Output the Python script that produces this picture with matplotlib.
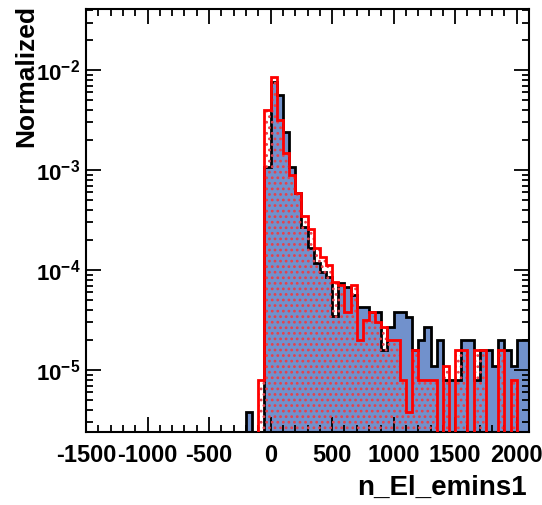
import matplotlib
matplotlib.use("Agg")
import matplotlib.pyplot as plt
from matplotlib import ticker
import numpy as np

plt.rcParams['font.family'] = ['Liberation Sans', 'DejaVu Sans']
plt.rcParams['font.weight'] = 'bold'
plt.rcParams['mathtext.fontset'] = 'custom'
plt.rcParams['mathtext.rm'] = 'Liberation Sans:bold'
plt.rcParams['mathtext.bf'] = 'Liberation Sans:bold'
plt.rcParams['axes.unicode_minus'] = False
plt.rcParams['hatch.linewidth'] = 1.2

# ...   data: bins of 50 starting at -200, normalized contents (0 = empty bin)
bin_start = -200
bin_width = 50
blue_vals = [3.8e-6, 0, 0, 1.07e-3, 7.6e-3, 5.7e-3, 2.4e-3, 1.07e-3, 5.9e-4, 2.7e-4,
             1.66e-4, 1.17e-4, 9.5e-5, 8.5e-5, 3.5e-5, 7.4e-5, 6.8e-5, 5.6e-5, 4.3e-5, 4.3e-5,
             3.8e-5, 3.8e-5, 1.6e-5, 2.7e-5, 3.8e-5, 3.8e-5, 3.4e-5, 1.6e-5, 2.0e-5, 2.7e-5,
             1.1e-5, 2.0e-5, 8e-6, 8e-6, 8e-6, 2.0e-5, 2.0e-5, 8e-6, 1.6e-5, 1.6e-5,
             1.1e-5, 2.0e-5, 1.6e-5, 1.1e-5, 2.0e-5, 2.0e-5]
red_vals = [0, 0, 7.9e-6, 4.0e-3, 8.5e-3, 3.2e-3, 1.5e-3, 8.9e-4, 5.9e-4, 3.5e-4,
            2.6e-4, 1.66e-4, 1.35e-4, 1.12e-4, 7.6e-5, 7.1e-5, 3.8e-5, 7.1e-5, 2.0e-5, 3.2e-5,
            3.8e-5, 3.0e-5, 2.7e-5, 2.0e-5, 2.0e-5, 8e-6, 3.8e-6, 1.6e-5, 8e-6, 8e-6,
            8e-6, 0, 1.1e-5, 0, 1.6e-5, 1.6e-5, 0, 1.6e-5, 1.6e-5, 0,
            0, 1.6e-5, 0, 8e-6, 0, 0]

x_range = (-1500, 2100)
y_range = (2.4e-6, 4.1e-2)
x_label = "n_El_emins1"
y_label = "Normalized"

floor = 1e-8
edges = bin_start + bin_width * np.arange(len(blue_vals) + 1)
blue = np.where(np.array(blue_vals) > 0, blue_vals, floor)
red = np.where(np.array(red_vals) > 0, red_vals, floor)

fig = plt.figure(figsize=(5.42, 5.05), dpi=100)
ax = fig.add_axes([0.1587, 0.1446, 0.8173, 0.8376])
ax.set_yscale('log')

# blue filled histogram with black outline
ax.stairs(blue, edges, baseline=floor, fill=True, color='#7191cc', zorder=1)
ax.stairs(blue, edges, baseline=floor, color='black', lw=2, zorder=2)
# red dotted histogram on top
ax.stairs(red, edges, baseline=floor, fill=True, facecolor='none',
          edgecolor='#e8404a', hatch='...', lw=0, zorder=3)
ax.stairs(red, edges, baseline=floor, color='red', lw=2, zorder=4)

ax.set_xlim(*x_range)
ax.set_ylim(*y_range)

ax.xaxis.set_major_locator(ticker.MultipleLocator(500))
ax.xaxis.set_minor_locator(ticker.MultipleLocator(100))
ax.yaxis.set_major_locator(ticker.LogLocator(base=10, numticks=10))
ax.yaxis.set_minor_locator(ticker.LogLocator(base=10, subs=np.arange(2, 10), numticks=10))
ax.yaxis.set_minor_formatter(ticker.NullFormatter())
ax.yaxis.set_major_formatter(ticker.FuncFormatter(lambda v, p: r'$10^{%d}$' % round(np.log10(v))))

ax.tick_params(which='both', direction='in', top=True, right=True, width=1.3)
ax.tick_params(which='major', length=11)
ax.tick_params(which='minor', length=5)
ax.tick_params(axis='x', which='major', labelsize=17, pad=9)
ax.tick_params(axis='y', which='major', labelsize=16, pad=4)
for s in ax.spines.values():
    s.set_linewidth(1.5)

for lab in ax.get_xticklabels():
    lab.set_fontweight('bold')

# axis titles placed ROOT-style
fig.text(527 / 542, 1 - 488 / 505, x_label, fontsize=20, fontweight='bold',
         ha='right', va='center')
fig.text(26 / 542, 1 - 5 / 505, y_label, fontsize=19, fontweight='bold',
         rotation=90, ha='center', va='top')

fig.savefig("out.png", dpi=100)
